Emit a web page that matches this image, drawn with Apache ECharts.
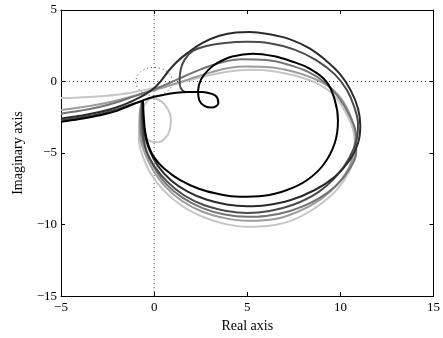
<!DOCTYPE html>
<html><head><meta charset="utf-8">
<script src="https://cdn.jsdelivr.net/npm/echarts@6/dist/echarts.min.js"></script>
<style>html,body{margin:0;padding:0;background:#fff}#c{width:443px;height:338px}</style>
</head><body><div id="c"></div>
<script>
// Axis ticks
const xTicks = [-5, 0, 5, 10, 15];
const yTicks = [-15, -10, -5, 0, 5];

// Curves (real, imaginary)
const curveBlack = [[-5,-2.82],[-4,-2.62],[-3,-2.38],[-2,-2.05],[-1.3,-1.68],[-0.6,-1.32],[0,-1.07],[0.6,-0.9],[1.2,-0.79],[1.8,-0.73],[2.35,-0.72],[2.8,-0.77],[3.3,-1.0],[3.45,-1.5],[3.1,-1.82],[2.7,-1.7],[2.42,-1.3],[2.36,-0.65],[2.52,0.15],[2.9,0.8],[3.4,1.3],[4.2,1.75],[5.3,1.95],[6.4,1.78],[7.4,1.4],[8.35,0.9],[9.25,0],[9.7,-1.3],[9.87,-2.7],[9.7,-4.3],[9.1,-5.8],[8.2,-6.9],[7.1,-7.6],[5.9,-7.98],[4.6,-8.05],[3.4,-7.85],[2.4,-7.5],[1.4,-6.9],[0.55,-6.1],[0,-5.3],[-0.3,-4.5],[-0.48,-3.5],[-0.56,-2.4],[-0.6,-1.35]];
const curveDark1 = [[-5,-2.6],[-4,-2.4],[-3,-2.15],[-2,-1.8],[-1.2,-1.38],[-0.5,-0.92],[0.05,-0.4],[0.4,0.1],[0.75,0.7],[1.2,1.35],[1.8,2.0],[2.6,2.7],[3.5,3.2],[4.4,3.43],[5.1,3.46],[6.2,3.3],[7.3,2.95],[8.3,2.35],[9.2,1.5],[9.96,0.55],[10.55,-0.6],[10.95,-1.9],[11.07,-3.1],[10.95,-4.3],[10.5,-5.5],[9.7,-6.65],[8.6,-7.6],[7.3,-8.3],[6.0,-8.65],[5.0,-8.72],[3.9,-8.6],[2.8,-8.25],[1.8,-7.7],[0.9,-6.9],[0.2,-5.9],[-0.25,-4.8],[-0.5,-3.7],[-0.6,-2.5],[-0.63,-1.4]];
const curveDark2 = [[-5,-2.72],[-4,-2.52],[-3,-2.28],[-2,-1.95],[-1.3,-1.62],[-0.62,-1.38],[-0.65,-2.5],[-0.58,-3.8],[-0.4,-4.9],[0,-5.9],[0.7,-7.0],[1.6,-7.95],[2.7,-8.65],[3.9,-9.05],[5.0,-9.19],[6.2,-9.05],[7.5,-8.6],[8.8,-7.75],[9.8,-6.6],[10.5,-5.3],[10.88,-4.0],[10.95,-3.0],[10.75,-1.8],[10.35,-0.6],[9.7,0.5],[8.7,1.5],[7.5,2.25],[6.2,2.68],[5.0,2.78],[3.8,2.7],[2.8,2.48],[2.1,2.15],[1.65,1.55],[1.42,0.8],[1.37,0.0],[1.42,-0.45],[1.68,-0.76]];
const curveGray1 = [[-5,-2.25],[-4,-2.05],[-3,-1.8],[-2,-1.45],[-1,-1.0],[0,-0.55],[0.8,-0.12],[1.6,0.35],[2.5,0.85],[3.5,1.3],[4.7,1.55],[6.0,1.5],[7.2,1.18],[8.3,0.65],[9.2,-0.1],[9.9,-1.1],[10.5,-2.4],[10.85,-3.8],[10.85,-4.9],[10.5,-6.1],[9.75,-7.3],[8.6,-8.35],[7.3,-9.05],[6.0,-9.4],[5.0,-9.46],[3.8,-9.3],[2.6,-8.85],[1.5,-8.1],[0.6,-7.1],[0,-6.0],[-0.45,-4.8],[-0.68,-3.6],[-0.72,-2.4],[-0.65,-1.42]];
const curveGray2 = [[-5,-1.99],[-4,-1.82],[-3,-1.6],[-2,-1.32],[-1,-0.98],[0,-0.62],[1,-0.22],[2,0.22],[3,0.62],[4,0.95],[5,1.05],[6.2,1.0],[7.4,0.72],[8.5,0.25],[9.5,-0.45],[10.2,-1.5],[10.65,-2.8],[10.82,-4.0],[10.7,-5.2],[10.25,-6.5],[9.45,-7.7],[8.3,-8.75],[7.0,-9.45],[5.9,-9.7],[5.0,-9.74],[3.8,-9.55],[2.6,-9.1],[1.5,-8.35],[0.6,-7.35],[-0.05,-6.2],[-0.5,-5.0],[-0.75,-3.8],[-0.78,-2.5],[-0.68,-1.45]];
const curveLight = [[-5,-1.16],[-3.5,-1.08],[-2,-0.92],[-1,-0.72],[0,-0.45],[1,-0.2],[2,0.12],[3,0.45],[4,0.7],[5.2,0.82],[6.4,0.72],[7.6,0.4],[8.7,-0.1],[9.6,-0.9],[10.3,-2.2],[10.72,-3.6],[10.78,-4.9],[10.5,-6.2],[9.85,-7.5],[8.8,-8.7],[7.5,-9.65],[6.2,-10.08],[5.0,-10.16],[3.8,-9.95],[2.6,-9.45],[1.5,-8.7],[0.5,-7.6],[-0.2,-6.4],[-0.62,-5.2],[-0.82,-4.0],[-0.8,-3.0],[-0.62,-1.9],[-0.1,-1.15],[0.35,-1.35],[0.7,-1.85],[0.9,-2.6],[0.85,-3.35],[0.6,-3.95],[0.2,-4.25],[-0.25,-4.15],[-0.6,-3.7],[-0.75,-3.2]];

// Reference lines and unit circle
const realZero = [[-5,0],[15,0]];
const imagZero = [[0,-15],[0,5]];
const unitCircle = [[1,0],[0.924,0.383],[0.707,0.707],[0.383,0.924],[0,1],[-0.383,0.924],[-0.707,0.707],[-0.924,0.383],[-1,0],[-0.924,-0.383],[-0.707,-0.707],[-0.383,-0.924],[0,-1],[0.383,-0.924],[0.707,-0.707],[0.924,-0.383],[1,0]];

const font = 'Liberation Serif';
const minus = v => String(v).replace('-', '\u2212');
const chart = echarts.init(document.getElementById('c'), null, {renderer:'canvas'});

function axisBase(extra){
  return Object.assign({
    type:'value', min:-5, max:15, interval:5,
    axisLine:{show:true,onZero:false,lineStyle:{color:'#000',width:1}},
    axisTick:{show:true,inside:true,length:4,lineStyle:{color:'#000',width:1}},
    splitLine:{show:false}
  }, extra);
}

function curve(data, color, z){
  return {type:'line', data, showSymbol:false, symbol:'none', smooth:0.4, z,
    lineStyle:{color, width:2}, xAxisIndex:0, yAxisIndex:0, animation:false};
}
function ref(data, color){
  return {type:'line', data, showSymbol:false, symbol:'none', z:1, smooth:false,
    lineStyle:{color, width:1, type:[1,3]}, xAxisIndex:0, yAxisIndex:0, animation:false};
}

chart.setOption({
  animation:false,
  backgroundColor:'#fff',
  grid:{left:61,right:9,top:10,bottom:39,containLabel:false},
  xAxis:[
    axisBase({position:'bottom', min:xTicks[0], max:xTicks[xTicks.length-1],
      name:'Real axis', nameLocation:'middle', nameGap:20,
      nameTextStyle:{fontFamily:font,fontSize:14,color:'#000'},
      axisLabel:{show:true,margin:5,fontFamily:font,fontSize:13,color:'#000',formatter:minus}}),
    axisBase({position:'top', min:xTicks[0], max:xTicks[xTicks.length-1], axisLabel:{show:false}})
  ],
  yAxis:[
    axisBase({position:'left', min:yTicks[0], max:yTicks[yTicks.length-1],
      name:'Imaginary axis', nameLocation:'middle', nameGap:30, nameRotate:90,
      nameTextStyle:{fontFamily:font,fontSize:14,color:'#000'},
      axisLabel:{show:true,margin:4,fontFamily:font,fontSize:13,color:'#000',formatter:minus}}),
    axisBase({position:'right', min:yTicks[0], max:yTicks[yTicks.length-1], axisLabel:{show:false}})
  ],
  series:[
    ref(realZero,'#444'),
    ref(imagZero,'#444'),
    ref(unitCircle,'#444'),
    curve(curveLight,'#c6c6c6',2),
    curve(curveGray2,'#9c9c9c',3),
    curve(curveGray1,'#747474',4),
    curve(curveDark2,'#4a4a4a',5),
    curve(curveDark1,'#2a2a2a',6),
    curve(curveBlack,'#000000',7)
  ]
});
</script></body></html>
